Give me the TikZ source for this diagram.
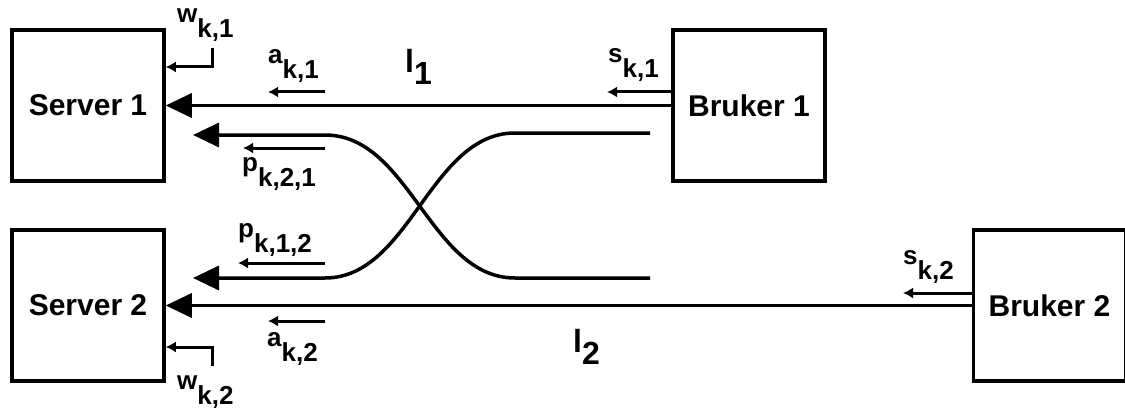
\documentclass[tikz,border=0pt]{standalone}
\usepackage{fontspec}
\setmainfont{Liberation Sans}
\usetikzlibrary{arrows.meta}
\newcommand{\idx}[3][15pt]{#2\raisebox{-#1}{#3}}

\begin{document}
\begin{tikzpicture}[
  x=1pt, y=-1pt,
  box/.style={
    draw,
    line width=3.5pt,
    minimum width=152pt,
    minimum height=151pt,
    inner sep=0pt,
    font=\fontsize{30}{36}\selectfont\bfseries
  },
  lbl/.style={inner sep=0pt, anchor=base west, font=\fontsize{26}{30}\selectfont\bfseries},
  linklbl/.style={inner sep=0pt, anchor=base west, font=\fontsize{32}{36}\selectfont\bfseries},
  arrow/.style={-{Triangle[length=26pt,width=24pt]}, line width=3.5pt},
  flow/.style={-{Latex[length=10pt,width=11pt]}, line width=3pt}
]
\useasboundingbox (0,0) rectangle (1125,412);

\node[box] (server1) at (88,105.5) {Server 1};
\node[box] (server2) at (88,305.5) {Server 2};
\node[box] (bruker1) at (749,105.5) {Bruker 1};
\node[box] (bruker2) at (1049.5,305.5) {Bruker 2};

% main links
\draw[arrow] (bruker1.west) -- (server1.east);
\draw[arrow] (bruker2.west) -- (server2.east);

% crossing links
\coordinate (cross1in) at (650,278);
\coordinate (cross1out) at (193,135);
\coordinate (cross2in) at (650,133);
\coordinate (cross2out) at (193,278);
\draw[arrow] (cross1in) -- (515,278) .. controls (430,278) and (410,135) .. (325,135) -- (cross1out);
\draw[arrow] (cross2in) -- (515,133) .. controls (430,133) and (410,278) .. (325,278) -- (cross2out);

% small flows
\coordinate (a1from) at (325,92);
\coordinate (a1to) at (268,92);
\coordinate (p21from) at (325,148);
\coordinate (p21to) at (243,148);
\coordinate (p12from) at (325,263);
\coordinate (p12to) at (238,263);
\coordinate (a2from) at (325,321);
\coordinate (a2to) at (268,321);
\coordinate (w1from) at (212,48);
\coordinate (w2from) at (212,366);
\coordinate (s1to) at (607,92);
\coordinate (s2to) at (903,293);
\draw[flow] (a1from) -- (a1to);
\draw[flow] (p21from) -- (p21to);
\draw[flow] (p12from) -- (p12to);
\draw[flow] (a2from) -- (a2to);
\draw[flow] (w1from) |- (server1.east |- 0,67);
\draw[flow] (w2from) |- (server2.east |- 0,347);
\draw[flow] (bruker1.west |- s1to) -- (s1to);
\draw[flow] (bruker2.west |- s2to) -- (s2to);

% labels
\node[lbl] (w1) at (177,23) {\idx{w}{k,1}};
\node[lbl] (a1) at (268,64) {\idx{a}{k,1}};
\node[lbl] (p21) at (242,171) {\idx{p}{k,2,1}};
\node[lbl] (p12) at (238,237) {\idx{p}{k,1,2}};
\node[lbl] (a2) at (267,346) {\idx{a}{k,2}};
\node[lbl] (w2) at (177,389) {\idx{w}{k,2}};
\node[lbl] (s1) at (608,63) {\idx{s}{k,1}};
\node[lbl] (s2) at (903,264) {\idx{s}{k,2}};
\node[linklbl] (l1) at (405,73) {\idx[12pt]{l}{1}};
\node[linklbl] (l2) at (573,352) {\idx[12pt]{l}{2}};
\end{tikzpicture}
\end{document}
